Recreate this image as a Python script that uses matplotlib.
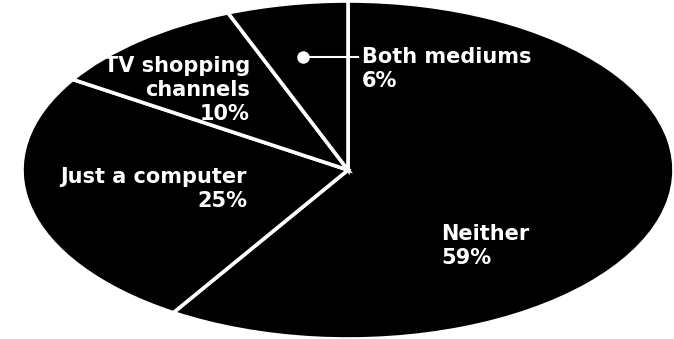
import matplotlib.pyplot as plt

# Datos del gráfico
categorias = ['Neither', 'Just a computer', 'TV shopping\nchannels', 'Both mediums']
porcentajes = [59, 25, 10, 6]

W, H = 674, 339
fig = plt.figure(figsize=(W / 100, H / 100), dpi=100)
ax = fig.add_axes([0, 0, 1, 1])

# Pastel negro con bordes blancos, estirado a elipse
ax.pie(porcentajes, startangle=90, counterclock=False, colors=['black'] * 4,
       wedgeprops=dict(edgecolor='white', linewidth=2.6))
ax.set_aspect('auto')

# centro (348, 170) px, radios 326 x 169 px
cx, cy, rx, ry = 348, 170, 326, 169
ax.set_xlim(-cx / rx, (W - cx) / rx)
ax.set_ylim(-(H - cy) / ry, cy / ry)


def fx(px):
    return px / W


def fy(py):
    return 1 - py / H


estilo = dict(color='white', fontsize=15, fontweight='bold', linespacing=1.25,
              family='DejaVu Sans')

etiquetas = [f'{c}\n{p}%' for c, p in zip(categorias, porcentajes)]

fig.text(fx(441), fy(224), etiquetas[0], ha='left', va='top', **estilo)
fig.text(fx(247), fy(167), etiquetas[1], ha='right', va='top', multialignment='right', **estilo)
fig.text(fx(250), fy(56), etiquetas[2], ha='right', va='top', multialignment='right', **estilo)
fig.text(fx(362), fy(47), etiquetas[3], ha='left', va='top', **estilo)

# Marcador para "Both mediums"
dx, dy = (303 - cx) / rx, (cy - 57) / ry
ex = (358 - cx) / rx
ax.plot([dx, ex], [dy, dy], color='white', lw=1.5)
ax.plot([dx], [dy], 'o', color='white', ms=8)

plt.savefig('out.png', dpi=100)
